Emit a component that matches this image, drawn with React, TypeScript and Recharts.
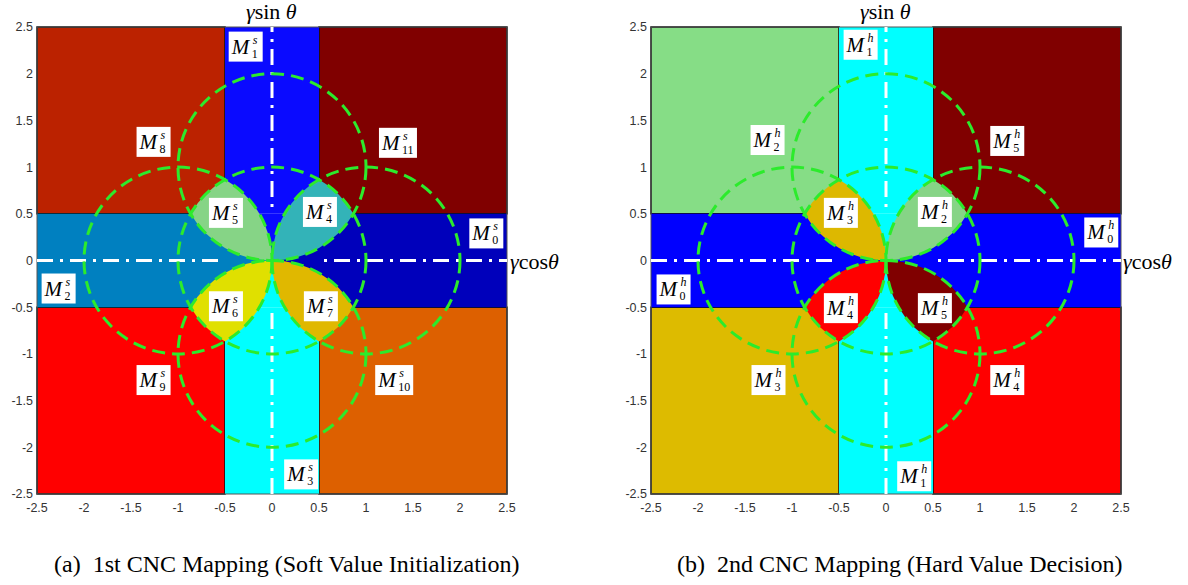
import React from "react";
import { ScatterChart, Scatter, XAxis, YAxis, ReferenceArea, ReferenceLine } from "recharts";

// axis ticks shared by both panels
const axisTicks = [-2.5, -2, -1.5, -1, -0.5, 0, 0.5, 1, 1.5, 2, 2.5];

// decision circles (centre points, radius 1)
const circleCenters = [
  { x: 0, y: 0 },
  { x: 0, y: 1 },
  { x: 0, y: -1 },
  { x: 1, y: 0 },
  { x: -1, y: 0 },
];
const circleRadius = 1;

// outer rectangles of the mapping
const outerRegions = [
  { id: "tl", x1: -2.5, x2: -0.5, y1: 0.5, y2: 2.5, corner: true },
  { id: "tr", x1: 0.5, x2: 2.5, y1: 0.5, y2: 2.5, corner: true },
  { id: "bl", x1: -2.5, x2: -0.5, y1: -2.5, y2: -0.5, corner: true },
  { id: "br", x1: 0.5, x2: 2.5, y1: -2.5, y2: -0.5, corner: true },
  { id: "up", x1: -0.5, x2: 0.5, y1: 0.5, y2: 2.5, corner: false },
  { id: "down", x1: -0.5, x2: 0.5, y1: -2.5, y2: -0.5, corner: false },
  { id: "left", x1: -2.5, x2: -0.5, y1: -0.5, y2: 0.5, corner: false },
  { id: "right", x1: 0.5, x2: 2.5, y1: -0.5, y2: 0.5, corner: false },
];

// centre square split in four triangles (tip at origin)
const centerWedges = [
  { id: "up", x: 0, y: 0, pts: [[0.5, 0.5], [-0.5, 0.5]] },
  { id: "left", x: 0, y: 0, pts: [[-0.5, 0.5], [-0.5, -0.5]] },
  { id: "down", x: 0, y: 0, pts: [[-0.5, -0.5], [0.5, -0.5]] },
  { id: "right", x: 0, y: 0, pts: [[0.5, -0.5], [0.5, 0.5]] },
];

// petals: tip at origin, a/b = outer corners on the unit circle
const petals = [
  { id: "ul", x: 0, y: 0, a: [-0.5, 0.866], b: [-0.866, 0.5] },
  { id: "ll", x: 0, y: 0, a: [-0.866, -0.5], b: [-0.5, -0.866] },
  { id: "lr", x: 0, y: 0, a: [0.5, -0.866], b: [0.866, -0.5] },
  { id: "ur", x: 0, y: 0, a: [0.866, 0.5], b: [0.5, 0.866] },
];

const softLabels = [
  { x: -0.28, y: 2.29, sub: "1" },
  { x: -1.26, y: 1.27, sub: "8" },
  { x: 1.34, y: 1.26, sub: "11" },
  { x: -0.49, y: 0.51, sub: "5" },
  { x: 0.51, y: 0.52, sub: "4" },
  { x: 2.28, y: 0.29, sub: "0" },
  { x: -2.27, y: -0.3, sub: "2" },
  { x: -0.49, y: -0.49, sub: "6" },
  { x: 0.52, y: -0.49, sub: "7" },
  { x: -1.26, y: -1.28, sub: "9" },
  { x: 1.3, y: -1.28, sub: "10" },
  { x: 0.31, y: -2.29, sub: "3" },
];

const hardLabels = [
  { x: -0.27, y: 2.31, sub: "1" },
  { x: -1.26, y: 1.29, sub: "2" },
  { x: 1.29, y: 1.28, sub: "5" },
  { x: -0.48, y: 0.51, sub: "3" },
  { x: 0.52, y: 0.52, sub: "2" },
  { x: 2.29, y: 0.3, sub: "0" },
  { x: -2.26, y: -0.31, sub: "0" },
  { x: -0.48, y: -0.51, sub: "4" },
  { x: 0.52, y: -0.51, sub: "5" },
  { x: -1.25, y: -1.28, sub: "3" },
  { x: 1.29, y: -1.28, sub: "4" },
  { x: 0.3, y: -2.31, sub: "1" },
];

// colours
const softRegionColors = {
  tl: "#BB2200", tr: "#800000", bl: "#FF0000", br: "#DD6000",
  up: "#0A0AFF", down: "#00FFFF", left: "#0080C0", right: "#0000BB",
};
const softPetalColors = { ul: "#86D486", ur: "#33B3B8", ll: "#E0E000", lr: "#E0B800" };
const hardRegionColors = {
  tl: "#86DD86", tr: "#800000", bl: "#DDBB00", br: "#FF0000",
  up: "#00FFFF", down: "#00FFFF", left: "#0000FF", right: "#0000FF",
};
const hardPetalColors = { ul: "#DDB800", ur: "#86D486", ll: "#FF0000", lr: "#800000" };

const PLOT_W = 470;
const PLOT_H = 467;
const UX = PLOT_W / 5;
const UY = PLOT_H / 5;
const GREEN = "#2CEB2C";
const SERIF = "'Liberation Serif', 'Times New Roman', serif";

function LabelBox(props: any) {
  const { cx, cy, payload, sup } = props;
  const w = payload.sub.length > 1 ? 38 : 34;
  const h = 30;
  const left = cx - w / 2;
  return (
    <g>
      <rect x={left} y={cy - h / 2} width={w} height={h} fill="#fff" />
      <text x={left + 3} y={cy + 7} fontFamily={SERIF} fontStyle="italic" fontSize={21} fill="#000">
        M
      </text>
      <text x={left + 24} y={cy - 3} fontFamily={SERIF} fontStyle="italic" fontSize={12} fill="#000">
        {sup}
      </text>
      <text x={left + 23} y={cy + 11} fontFamily={SERIF} fontSize={12} fill="#000">
        {payload.sub}
      </text>
    </g>
  );
}

function Panel({ left, regionColors, petalColors, labels, sup }: any) {
  const wedgeShape = (p: any) => {
    const { cx, cy, payload } = p;
    const d =
      `M${cx},${cy} ` +
      payload.pts.map((q: number[]) => `L${cx + q[0] * UX},${cy - q[1] * UY}`).join(" ") +
      " Z";
    return <path d={d} fill={regionColors[payload.id]} />;
  };
  const petalShape = (p: any) => {
    const { cx, cy, payload } = p;
    const rx = circleRadius * UX;
    const ry = circleRadius * UY;
    const ax = cx + payload.a[0] * UX;
    const ay = cy - payload.a[1] * UY;
    const bx = cx + payload.b[0] * UX;
    const by = cy - payload.b[1] * UY;
    const d = `M${cx},${cy} A${rx},${ry} 0 0 0 ${ax},${ay} A${rx},${ry} 0 0 0 ${bx},${by} A${rx},${ry} 0 0 0 ${cx},${cy} Z`;
    return <path d={d} fill={petalColors[payload.id]} />;
  };
  const circleShape = (p: any) => (
    <ellipse
      cx={p.cx}
      cy={p.cy}
      rx={circleRadius * UX}
      ry={circleRadius * UY}
      fill="none"
      stroke={GREEN}
      strokeWidth={3}
      strokeDasharray="13 7"
    />
  );
  const labelShape = (p: any) => <LabelBox {...p} sup={sup} />;
  const tick = { fontSize: 12.5, fill: "#333", fontFamily: "'Liberation Sans', Arial, sans-serif" };

  return (
    <div style={{ position: "absolute", left, top: 0 }}>
      <ScatterChart width={560} height={540} margin={{ top: 27, right: 53, bottom: 16, left: 0 }}>
        <XAxis
          type="number"
          dataKey="x"
          domain={[-2.5, 2.5]}
          ticks={axisTicks}
          allowDataOverflow
          axisLine={false}
          tickLine={false}
          tickSize={2}
          tickMargin={7}
          height={30}
          tick={tick}
        />
        <YAxis
          type="number"
          dataKey="y"
          domain={[-2.5, 2.5]}
          ticks={axisTicks}
          allowDataOverflow
          axisLine={false}
          tickLine={false}
          tickSize={2}
          tickMargin={2}
          width={37}
          tick={tick}
        />
        {outerRegions.map((r) => (
          <ReferenceArea
            key={r.id}
            x1={r.x1}
            x2={r.x2}
            y1={r.y1}
            y2={r.y2}
            fill={regionColors[r.id]}
            fillOpacity={1}
            stroke={r.corner ? "#111" : "none"}
            strokeWidth={1.5}
          />
        ))}
        <ReferenceArea x1={-2.5} x2={2.5} y1={-2.5} y2={2.5} fill="none" stroke="#555" strokeWidth={1} />
        <Scatter data={centerWedges} shape={wedgeShape} isAnimationActive={false} />
        <Scatter data={petals} shape={petalShape} isAnimationActive={false} />
        <ReferenceLine x={0} stroke="#fff" strokeWidth={3} strokeDasharray="16 7 3 7" />
        <ReferenceLine y={0} stroke="#fff" strokeWidth={3} strokeDasharray="16 7 3 7" />
        <Scatter data={circleCenters} shape={circleShape} isAnimationActive={false} />
        <Scatter data={labels} shape={labelShape} isAnimationActive={false} />
      </ScatterChart>
    </div>
  );
}

const nameStyle: React.CSSProperties = {
  position: "absolute",
  fontFamily: SERIF,
  fontSize: 22,
  color: "#000",
  whiteSpace: "nowrap",
  lineHeight: "24px",
};
const captionStyle: React.CSSProperties = {
  position: "absolute",
  fontFamily: SERIF,
  fontSize: 24,
  color: "#000",
  whiteSpace: "nowrap",
  lineHeight: "26px",
  top: 551,
};

export default function App() {
  return (
    <div style={{ position: "absolute", left: 0, top: 0, width: 1188, height: 585, background: "#fff", overflow: "hidden" }}>
      <Panel left={0} regionColors={softRegionColors} petalColors={softPetalColors} labels={softLabels} sup="s" />
      <Panel left={614} regionColors={hardRegionColors} petalColors={hardPetalColors} labels={hardLabels} sup="h" />

      <div style={{ ...nameStyle, left: 246, top: 0 }}>
        <i>γ</i>sin <i>θ</i>
      </div>
      <div style={{ ...nameStyle, left: 510, top: 250 }}>
        <i>γ</i>cos<i>θ</i>
      </div>
      <div style={{ ...nameStyle, left: 860, top: 0 }}>
        <i>γ</i>sin <i>θ</i>
      </div>
      <div style={{ ...nameStyle, left: 1123, top: 250 }}>
        <i>γ</i>cos<i>θ</i>
      </div>

      <div style={{ ...captionStyle, left: 54 }}>(a)&nbsp; 1st CNC Mapping (Soft Value Initialization)</div>
      <div style={{ ...captionStyle, left: 677 }}>(b)&nbsp; 2nd CNC Mapping (Hard Value Decision)</div>
    </div>
  );
}
